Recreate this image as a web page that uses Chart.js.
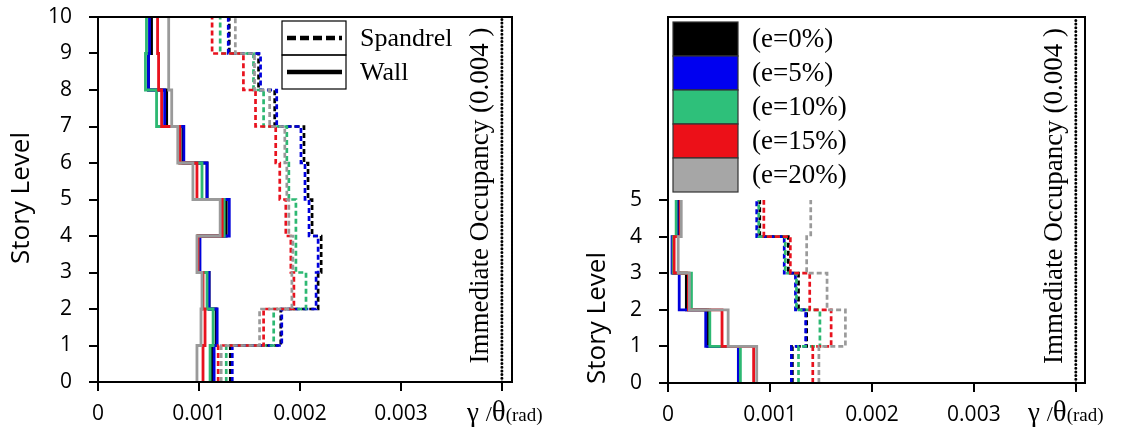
<!DOCTYPE html>
<html>
<head>
<meta charset="utf-8">
<script src="https://cdn.jsdelivr.net/npm/chart.js@4.4.1/dist/chart.umd.min.js"></script>
<style>
  html, body { margin: 0; padding: 0; background: #ffffff; }
  #wrap { position: relative; width: 1124px; height: 440px; overflow: hidden; }
  #c1 { position: absolute; left: 0; top: 0; }
  #c2 { position: absolute; left: 560px; top: 0; }
</style>
</head>
<body>
<div id="wrap">
  <canvas id="c1" width="560" height="440"></canvas>
  <canvas id="c2" width="564" height="440"></canvas>
</div>
<script>
// ---- story drift values (rad), index 0 = story 1 ----
// 10-storey building: walls
const wall10_e0  = [0.00113, 0.00117, 0.00110, 0.00099, 0.00127, 0.00108, 0.00084, 0.00068, 0.00050, 0.00053];
const wall10_e5  = [0.00115, 0.00118, 0.00110, 0.00101, 0.00130, 0.00108, 0.00085, 0.00066, 0.00050, 0.00051];
const wall10_e10 = [0.00111, 0.00114, 0.00108, 0.00099, 0.00125, 0.00103, 0.00081, 0.00058, 0.00047, 0.00048];
const wall10_e15 = [0.00104, 0.00106, 0.00104, 0.00099, 0.00123, 0.00098, 0.00081, 0.00063, 0.00060, 0.00059];
const wall10_e20 = [0.00098, 0.00102, 0.00103, 0.00098, 0.00121, 0.00094, 0.00079, 0.00073, 0.00070, 0.00070];
// 10-storey building: spandrels
const span10_e0  = [0.00131, 0.00181, 0.00218, 0.00221, 0.00212, 0.00208, 0.00204, 0.00175, 0.00159, 0.00130];
const span10_e5  = [0.00133, 0.00182, 0.00216, 0.00218, 0.00209, 0.00205, 0.00201, 0.00177, 0.00161, 0.00129];
const span10_e10 = [0.00127, 0.00174, 0.00206, 0.00196, 0.00196, 0.00189, 0.00187, 0.00164, 0.00154, 0.00121];
const span10_e15 = [0.00119, 0.00164, 0.00194, 0.00191, 0.00186, 0.00180, 0.00176, 0.00156, 0.00144, 0.00113];
const span10_e20 = [0.00122, 0.00160, 0.00192, 0.00193, 0.00189, 0.00187, 0.00185, 0.00170, 0.00155, 0.00136];
// 5-storey building: walls
const wall5_e0  = [0.00070, 0.00039, 0.00018, 0.00005, 0.00010];
const wall5_e5  = [0.00069, 0.00037, 0.00011, 0.00004, 0.00009];
const wall5_e10 = [0.00071, 0.00041, 0.00023, 0.00005, 0.00008];
const wall5_e15 = [0.00084, 0.00053, 0.00020, 0.00006, 0.00012];
const wall5_e20 = [0.00087, 0.00059, 0.00021, 0.00010, 0.00013];
// 5-storey building: spandrels
const span5_e0  = [0.00122, 0.00136, 0.00128, 0.00118, 0.00090];
const span5_e5  = [0.00121, 0.00135, 0.00125, 0.00114, 0.00087];
const span5_e10 = [0.00128, 0.00149, 0.00126, 0.00115, 0.00089];
const span5_e15 = [0.00142, 0.00160, 0.00139, 0.00120, 0.00094];
const span5_e20 = [0.00148, 0.00174, 0.00156, 0.00136, 0.00140];

const eccentricityLabels = ['(e=0%)', '(e=5%)', '(e=10%)', '(e=15%)', '(e=20%)'];
const elementLabels = ['Spandrel', 'Wall'];
const xTickValues = [0, 0.001, 0.002, 0.003, 0.004];
const xTickLabels = ['0', '0.001', '0.002', '0.003', ''];
const ioLimit = 0.004;
const ioLabel = 'Immediate Occupancy (0.004 )';
const yTitle = 'Story Level';

// drawing styles
const COLORS = ['#000000', '#0000DC', '#2DB872', '#E8121E', '#9A9A9A'];
const LEGEND_FILL = ['#000000', '#0000F0', '#2EC07A', '#EC1018', '#A6A6A6'];
const SERIF = '"Liberation Serif", "Times New Roman", serif';
const SANS = '"Open Sans", sans-serif';

// turn per-storey values into a stepped profile: vertical inside a storey, horizontal at floor levels
function stepProfile(vals) {
  const pts = [];
  vals.forEach((v, i) => { pts.push({ x: v, y: i }); pts.push({ x: v, y: i + 1 }); });
  return pts;
}

function buildDatasets(walls, spans, topStory) {
  const ds = [];
  // grey on top, black at the bottom
  for (let k = 4; k >= 0; k--) {
    ds.push({ label: eccentricityLabels[k] + ' spandrel', data: stepProfile(spans[k]),
      borderColor: COLORS[k], borderWidth: 2.7, borderDash: [5, 3], showLine: true,
      pointRadius: 0, tension: 0, fill: false });
  }
  for (let k = 4; k >= 0; k--) {
    ds.push({ label: eccentricityLabels[k] + ' wall', data: stepProfile(walls[k]),
      borderColor: COLORS[k], borderWidth: 2.8, showLine: true,
      pointRadius: 0, tension: 0, fill: false });
  }
  ds.push({ label: 'IO', data: [{ x: ioLimit, y: 0 }, { x: ioLimit, y: topStory }],
    borderColor: '#000', borderWidth: 3, borderDash: [0, 3.7], borderCapStyle: 'round',
    showLine: true, pointRadius: 0, fill: false, clip: false });
  return ds;
}

function rotatedText(ctx, txt, x, y, font, baseline) {
  ctx.save();
  ctx.translate(x, y);
  ctx.rotate(-Math.PI / 2);
  ctx.font = font;
  ctx.fillStyle = '#000';
  ctx.textAlign = 'center';
  ctx.textBaseline = baseline;
  ctx.fillText(txt, 0, 0);
  ctx.restore();
}

function drawXTitle(ctx, x0, baseY) {
  ctx.save();
  ctx.fillStyle = '#000';
  ctx.textBaseline = 'alphabetic';
  ctx.textAlign = 'left';
  let x = x0;
  ctx.font = '27px ' + SERIF; ctx.fillText('\u03B3', x, baseY); x += ctx.measureText('\u03B3 ').width;
  ctx.font = '22px ' + SERIF; ctx.fillText('/', x, baseY); x += ctx.measureText('/').width;
  ctx.font = '29px ' + SERIF; ctx.fillText('\u03B8', x, baseY); x += ctx.measureText('\u03B8').width;
  ctx.font = '19px ' + SERIF; ctx.fillText('(rad)', x, baseY);
  ctx.restore();
}

function decorPlugin(opts) {
  return {
    id: 'decor',
    afterDraw(chart) {
      const ctx = chart.ctx;
      const a = chart.chartArea;
      const xs = chart.scales.x;
      // frame
      ctx.save();
      ctx.strokeStyle = '#000';
      ctx.lineWidth = 2;
      ctx.strokeRect(a.left, a.top, a.right - a.left, a.bottom - a.top);
      ctx.restore();
      // IO label next to the dotted limit line
      const ioX = xs.getPixelForValue(ioLimit);
      rotatedText(ctx, ioLabel, ioX - 14, (a.top + a.bottom) / 2 - 4, '27px ' + SERIF, 'alphabetic');
      // axis titles
      rotatedText(ctx, yTitle, opts.yTitleX, opts.yTitleY, '26px ' + SANS, 'middle');
      drawXTitle(ctx, opts.xTitleX, opts.xTitleY);
      opts.legend(ctx);
    }
  };
}

function noScalePadding(s) {
  s.paddingTop = 0; s.paddingBottom = 0; s.paddingLeft = 0; s.paddingRight = 0;
}

function axisOptions(xMax, yMax, yLimit, yAxisWidth, xAxisHeight) {
  return {
    x: {
      type: 'linear', min: 0, max: xMax,
      afterBuildTicks: s => { s.ticks = xTickValues.map(v => ({ value: v })); },
      afterFit: s => { s.height = xAxisHeight; noScalePadding(s); },
      ticks: { callback: (v, i) => xTickLabels[i], font: { family: SANS, size: 21 }, color: '#000', padding: 10, maxRotation: 0, autoSkip: false },
      grid: { display: true, drawOnChartArea: false, drawTicks: true, tickLength: 9, color: '#000', lineWidth: 2 },
      border: { display: true, color: '#000', width: 2 }
    },
    y: {
      type: 'linear', min: 0, max: yMax,
      afterBuildTicks: s => {
        const t = [];
        for (let v = 0; v <= yLimit; v++) t.push({ value: v });
        s.ticks = t;
      },
      afterFit: s => { s.width = yAxisWidth; noScalePadding(s); },
      ticks: { font: { family: SANS, size: 21 }, color: '#000', padding: 17, autoSkip: false },
      grid: { display: true, drawOnChartArea: false, drawTicks: true, tickLength: 9, color: '#000', lineWidth: 2 },
      border: { display: true, color: '#000', width: 2 }
    }
  };
}

// ---------- 10-storey chart ----------
new Chart(document.getElementById('c1'), {
  type: 'scatter',
  data: { datasets: buildDatasets(
    [wall10_e0, wall10_e5, wall10_e10, wall10_e15, wall10_e20],
    [span10_e0, span10_e5, span10_e10, span10_e15, span10_e20], 10) },
  options: {
    responsive: false, animation: false, devicePixelRatio: 1,
    layout: { padding: { left: 0, top: 17, right: 48, bottom: 0 } },
    plugins: { legend: { display: false }, tooltip: { enabled: false } },
    scales: axisOptions(0.0041, 10, 10, 98, 58)
  },
  plugins: [decorPlugin({
    yTitleX: 22, yTitleY: 198, xTitleX: 467, xTitleY: 421,
    legend(ctx) {
      ctx.save();
      ctx.strokeStyle = '#000';
      ctx.lineWidth = 1.2;
      ctx.fillStyle = '#fff';
      ctx.fillRect(282, 21, 64, 68);
      ctx.strokeRect(282, 21, 64, 34);
      ctx.strokeRect(282, 55, 64, 34);
      ctx.lineWidth = 4.5;
      ctx.setLineDash([9, 4]);
      ctx.beginPath(); ctx.moveTo(287, 38); ctx.lineTo(342, 38); ctx.stroke();
      ctx.setLineDash([]);
      ctx.beginPath(); ctx.moveTo(287, 72); ctx.lineTo(342, 72); ctx.stroke();
      ctx.font = '26px ' + SERIF;
      ctx.fillStyle = '#000';
      ctx.textBaseline = 'middle';
      ctx.fillText(elementLabels[0], 360, 39);
      ctx.fillText(elementLabels[1], 360, 73);
      ctx.restore();
    }
  })]
});

// ---------- 5-storey chart ----------
new Chart(document.getElementById('c2'), {
  type: 'scatter',
  data: { datasets: buildDatasets(
    [wall5_e0, wall5_e5, wall5_e10, wall5_e15, wall5_e20],
    [span5_e0, span5_e5, span5_e10, span5_e15, span5_e20], 10) },
  options: {
    responsive: false, animation: false, devicePixelRatio: 1,
    layout: { padding: { left: 0, top: 17, right: 39, bottom: 0 } },
    plugins: { legend: { display: false }, tooltip: { enabled: false } },
    scales: axisOptions(0.00409, 10, 5, 108, 57)
  },
  plugins: [decorPlugin({
    yTitleX: 38, yTitleY: 318, xTitleX: 468, xTitleY: 421,
    legend(ctx) {
      ctx.save();
      const x0 = 113, w = 65, top = 22, h = 34;
      for (let k = 0; k < 5; k++) {
        ctx.fillStyle = LEGEND_FILL[k];
        ctx.fillRect(x0, top + k * h, w, h);
        ctx.strokeStyle = '#333';
        ctx.lineWidth = 1.2;
        ctx.strokeRect(x0, top + k * h, w, h);
      }
      ctx.font = '27px ' + SERIF;
      ctx.fillStyle = '#000';
      ctx.textBaseline = 'middle';
      for (let k = 0; k < 5; k++) ctx.fillText(eccentricityLabels[k], 192, top + k * h + h / 2 + 1);
      ctx.restore();
    }
  })]
});
</script>
</body>
</html>
